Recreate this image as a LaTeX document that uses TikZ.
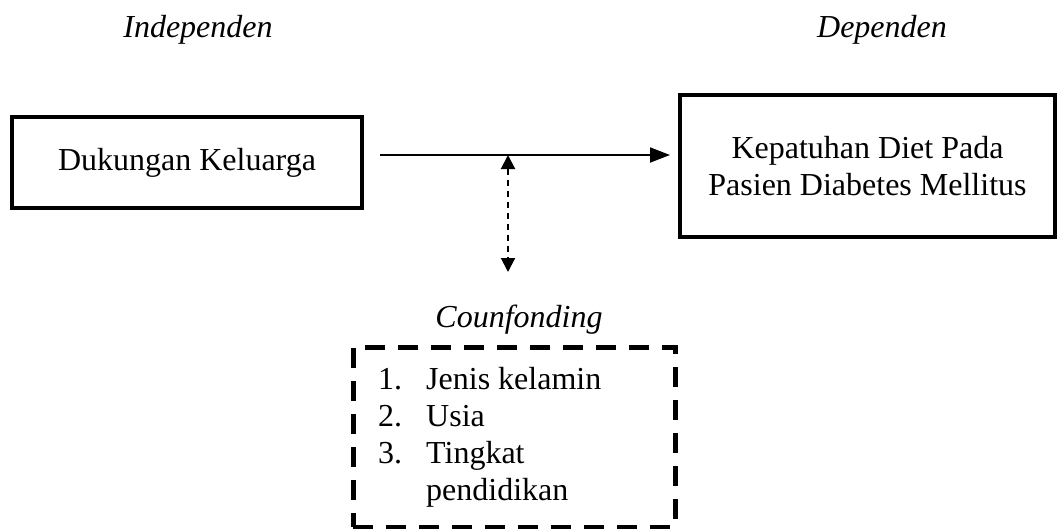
\documentclass[tikz,border=0pt]{standalone}
\usepackage{fontspec}
\setmainfont{Liberation Serif}
\usetikzlibrary{arrows.meta}
\begin{document}
\begin{tikzpicture}[x=1pt,y=-1pt,
  every node/.style={font=\fontsize{32}{37}\selectfont},
  solidbox/.style={draw, line width=4pt, rectangle, align=center, inner sep=0pt},
  dashbox/.style={draw, line width=5pt, dash pattern=on 20pt off 13pt, rectangle, inner sep=0pt},
  title/.style={font=\fontsize{32}{37}\selectfont\itshape, anchor=base},
  mainarrow/.style={line width=1.8pt, -{Triangle[length=20pt,width=15pt]}},
  confarrow/.style={line width=2pt, dash pattern=on 6pt off 5pt, {Triangle[length=14pt,width=14pt]}-{Triangle[length=14pt,width=14pt]}}
]
\useasboundingbox (0,0) rectangle (1057,528);

\node[title] (ind) at (198,37) {Independen};
\node[title] (dep) at (882,37) {Dependen};
\node[title] (cft) at (519,327) {Counfonding};

\node[solidbox, minimum width=350pt, minimum height=91pt] (dk) at (187,162.5) {Dukungan Keluarga};
\node[solidbox, minimum width=375pt, minimum height=142pt] (kp) at (867.5,166) {Kepatuhan Diet Pada\\Pasien Diabetes Mellitus};

\node[dashbox, minimum width=322pt, minimum height=180pt] (cf) at (514,437) {};
\node[anchor=north west, inner sep=0pt, align=left] (list) at (378,363)
  {\begin{tabular}{@{}l@{\hspace{24pt}}l@{}}
   1. & Jenis kelamin\\
   2. & Usia\\
   3. & Tingkat\\
      & pendidikan
   \end{tabular}};

\coordinate (m) at (508,155);
\coordinate (c) at (508,272);
\draw[mainarrow, shorten <=16pt, shorten >=8pt] (dk.east |- m) -- (kp.west |- m);
\draw[confarrow] (m) -- (c);
\end{tikzpicture}
\end{document}
